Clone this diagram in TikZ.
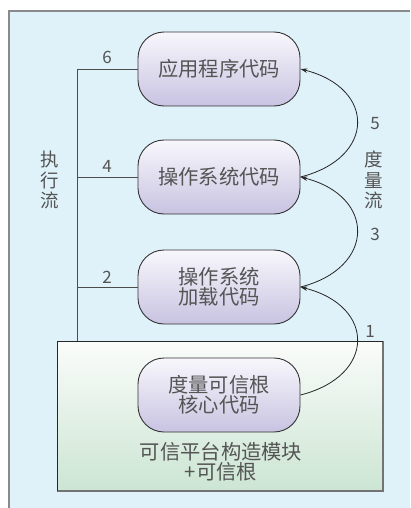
\documentclass[tikz,border=0pt]{standalone}
\usepackage{fontspec}
\setmainfont{Noto Sans CJK SC}
\usetikzlibrary{arrows.meta}
\definecolor{bgblue}{HTML}{DFF2FA}
\definecolor{frameg}{HTML}{8A8A8A}
\definecolor{nodetop}{HTML}{F8F7FC}
\definecolor{nodebot}{HTML}{C8C3E1}
\definecolor{greentop}{HTML}{FAFCFA}
\definecolor{greenbot}{HTML}{CCE5D3}
\definecolor{txt}{HTML}{545454}
\tikzset{
  codebox/.style={draw=black!80, line width=0.9pt, rounded corners=26pt,
    minimum width=162pt, minimum height=74pt, top color=nodetop, bottom color=nodebot,
    align=center, text=txt, font=\fontsize{20.3}{20.5}\selectfont, inner sep=0pt},
  num/.style={text=txt, font=\fontsize{17}{18}\selectfont, inner sep=0pt},
  vlabel/.style={text=txt, font=\fontsize{18.5}{20.5}\selectfont, align=center, inner sep=0pt},
  wire/.style={draw=black!70, line width=0.9pt},
  flow/.style={draw=black!85, line width=0.8pt, -{Stealth[length=7pt,width=4.5pt]}}
}
\begin{document}
\begin{tikzpicture}[x=1pt,y=-1pt]
\useasboundingbox (0,0) rectangle (410,508);
% background frame
\fill[bgblue] (9,11) rectangle (410,508);
\draw[frameg, line width=1.5pt] (9,508) -- (9,11) -- (410,11);
% green module
\shade[top color=greentop, bottom color=greenbot] (57,341) rectangle (383,491);
\draw[black!55, line width=1.6pt] (57,491) -- (383,491) -- (383,341);
\draw[black!85, line width=0.9pt] (57,491) -- (57,341) -- (383,341);
\node[vlabel, font=\fontsize{20.3}{20.5}\selectfont] (tpm) at (221,462) {可信平台构造模块\\+可信根};
\coordinate (tpmtop) at (220,341);
% nodes
\node[codebox] (app) at (219,69) {应用程序代码};
\node[codebox] (os) at (219,177) {操作系统代码};
\node[codebox] (ldr) at (219,287) {操作系统\\加载代码};
\node[codebox] (root) at (219,395) {度量可信根\\核心代码};
% execution flow
\coordinate (ex) at (77,69);
\draw[wire] (app.west) -- (app.west -| ex);
\draw[wire] (os.west) -- (os.west -| ex);
\draw[wire] (ldr.west) -- (ldr.west -| ex);
\draw[wire] (ex) -- (ex |- tpmtop);
\node[num] (n6) at (107,57) {6};
\node[num] (n4) at (107,166) {4};
\node[num] (n2) at (107,277) {2};
\node[vlabel] (exlabel) at (50,180) {执\\行\\流};
% measurement flow
\draw[flow] (root.east) .. controls (376,376) and (376,306) .. (ldr.east);
\draw[flow] (ldr.east) .. controls (376,268) and (376,196) .. (os.east);
\draw[flow] (os.east) .. controls (376,158) and (376,88) .. (app.east);
\node[num] (n5) at (375,124) {5};
\node[num] (n3) at (375,234) {3};
\node[num] (n1) at (370,331) {1};
\node[vlabel] (mlabel) at (374,180) {度\\量\\流};
\end{tikzpicture}
\end{document}
